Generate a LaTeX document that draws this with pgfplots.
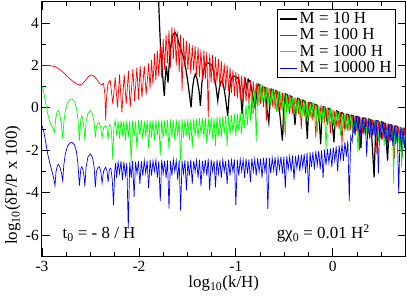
\documentclass[border=0pt]{standalone}
\usepackage{fontspec}
\setmainfont{Liberation Serif}
\usepackage{pgfplots}
\pgfplotsset{compat=1.18}
\definecolor{gred}{rgb}{1,0,0}
\definecolor{ggreen}{rgb}{0,1,0}
\definecolor{gblue}{rgb}{0,0,1}
\begin{document}
\fontsize{17}{19}\selectfont
\begin{tikzpicture}
\begin{axis}[
  scale only axis,
  width=363.5bp, height=254.4bp,
  xmin=-3, xmax=0.75, ymin=-7, ymax=5,
  xtick={-3,-2,-1,0}, xticklabels={-3,-2,-1,0},
  minor xtick={-2.75,-2.5,-2.25,-1.75,-1.5,-1.25,-0.75,-0.5,-0.25,0.25,0.5},
  ytick={-6,-4,-2,0,2,4}, yticklabels={-6,-4,-2,0,2,4},
  minor ytick={-5,-3,-1,1,3},
  tick align=inside, major tick length=8bp, minor tick length=4bp,
  every tick/.style={black, line width=0.8bp},
  axis line style={line width=1bp},
  tick label style={font=\fontsize{15.5}{17}\selectfont},
  yticklabel style={inner xsep=0pt, xshift=-3bp},
  xticklabel style={inner ysep=0pt, yshift=-4.5bp},
  label style={font=\fontsize{17}{19}\selectfont},
  xlabel={log\textsubscript{10}(k/H)},
  ylabel={log\textsubscript{10}(δP/P x 100)},
  xlabel style={at={(axis description cs:0.5,-0.124)}, anchor=base, inner sep=0pt},
  ylabel style={at={(axis description cs:-0.0688,0.044)}, anchor=base west, inner sep=0pt},
  legend style={at={(1,1)}, anchor=north east, xshift=-9.5bp, yshift=-7bp,
    draw=black, line width=0.8bp, fill=white, inner xsep=2bp, inner ysep=1bp,
    font=\fontsize{17}{17}\selectfont, row sep=-1.5bp},
  legend cell align=left,
  legend entries={M = 10 H, M = 100 H, M = 1000 H, M = 10000 H},
]
% black M=10H
\addplot[black, line width=1.2bp] coordinates {
(-1.800,5.5) (-1.790,4.2) (-1.780,3.15) (-1.760,1.8) (-1.745,0.9) (-1.738,0.56) (-1.730,1.3) (-1.718,1.98) (-1.708,1.6) (-1.700,1.19) (-1.690,1.9) (-1.675,2.8) (-1.660,3.25) (-1.645,3.48) (-1.625,3.54) (-1.605,3.35) (-1.585,3.0) (-1.560,2.65) (-1.539,2.37) (-1.515,1.8) (-1.495,1.2) (-1.478,0.6) (-1.462,0.02) (-1.448,0.9) (-1.432,1.4) (-1.418,1.58) (-1.400,1.35) (-1.380,0.8) (-1.366,0.09) (-1.350,1.2) (-1.330,1.8) (-1.310,2.08) (-1.297,2.13) (-1.270,2.08) (-1.245,1.98) (-1.225,1.6) (-1.205,1.0) (-1.187,0.33) (-1.170,0.95) (-1.155,1.2) (-1.142,1.27) (-1.125,1.0) (-1.105,0.4) (-1.084,-0.38) (-1.065,0.9) (-1.045,1.4) (-1.022,1.5) (-0.995,1.45) (-0.970,1.35) (-0.955,0.9) (-0.945,0.3) (-0.935,-0.3) (-0.920,0.8) (-0.905,1.35)
(-0.885,0.9) (-0.870,1.33) (-0.850,1.2) (-0.830,0.7) (-0.815,0.3) (-0.800,0.0) (-0.785,0.7) (-0.770,1.12) (-0.750,1.05) (-0.735,0.6) (-0.720,1.0) (-0.700,0.95) (-0.685,0.3) (-0.672,-0.3) (-0.660,-0.69) (-0.648,0.2) (-0.635,0.88) (-0.615,0.85) (-0.600,0.5) (-0.588,0.82) (-0.570,0.75) (-0.555,0.1) (-0.540,-0.6) (-0.520,-1.55) (-0.505,0.0) (-0.490,0.66) (-0.470,0.62) (-0.455,0.2) (-0.440,0.56) (-0.420,0.52) (-0.405,0.0) (-0.390,-0.8) (-0.375,0.1) (-0.360,0.45) (-0.340,0.40) (-0.325,0.0) (-0.310,0.36) (-0.292,0.33) (-0.278,-0.2) (-0.263,-1.47) (-0.250,-0.1) (-0.235,0.25) (-0.215,0.21) (-0.200,-0.2) (-0.185,0.17) (-0.165,0.13) (-0.150,-0.3) (-0.137,-0.8) (-0.125,-1.71) (-0.112,-0.4) (-0.098,0.05) (-0.080,0.02) (-0.065,-0.5) (-0.050,-0.03) (-0.030,-0.06) (-0.015,-0.5) (0.000,-1.0) (0.012,-1.63) (0.025,-0.5) (0.040,-0.15) (0.060,-0.2) (0.075,-0.7) (0.090,-0.23) (0.110,-0.27) (0.125,-0.9) (0.140,-0.3) (0.160,-0.32) (0.175,-0.8) (0.190,-0.35) (0.210,-0.37) (0.225,-1.0) (0.240,-0.4) (0.260,-0.42) (0.275,-1.2) (0.290,-1.9) (0.305,-0.6) (0.320,-0.48) (0.340,-0.5) (0.355,-1.1) (0.370,-0.53) (0.390,-0.56) (0.405,-1.6) (0.418,-2.6) (0.426,-3.28) (0.435,-2.0) (0.448,-0.6) (0.470,-0.63) (0.490,-1.2) (0.505,-0.66) (0.525,-0.7) (0.545,-1.3) (0.558,-2.0) (0.565,-2.49) (0.575,-1.5) (0.590,-0.8) (0.610,-0.82) (0.630,-1.4) (0.645,-0.86) (0.665,-0.88) (0.685,-1.2) (0.700,-1.6) (0.715,-2.1) (0.728,-1.2) (0.740,-0.97) (0.755,-1.0)
};
% red M=100H
\addplot[gred, line width=0.7bp] coordinates {
(-3.00,2.00) (-2.94,2.00) (-2.88,1.96) (-2.84,1.88) (-2.80,1.75) (-2.76,1.58) (-2.72,1.40) (-2.68,1.24) (-2.64,1.12) (-2.61,1.08) (-2.58,1.14) (-2.55,1.30) (-2.52,1.48) (-2.49,1.55) (-2.46,1.48) (-2.43,1.30) (-2.40,1.12) (-2.38,1.10) (-2.365,1.15) (-2.35,0.60) (-2.343,-0.60) (-2.335,0.40) (-2.32,1.15) (-2.297,1.30) (-2.269,0.17) (-2.245,1.43) (-2.221,0.02) (-2.200,1.58) (-2.176,-0.22) (-2.152,1.58) (-2.131,0.17) (-2.108,1.74) (-2.090,0.02) (-2.062,1.82) (-2.045,0.33) (-2.021,1.90) (-2.004,0.40) (-1.987,1.98) (-1.969,0.49) (-1.945,1.98) (-1.925,0.64)
(-1.900,2.10) (-1.885,0.90) (-1.870,2.25) (-1.855,1.10) (-1.840,2.55) (-1.825,1.30) (-1.810,2.70) (-1.795,1.50) (-1.780,2.95) (-1.765,1.40) (-1.750,3.25) (-1.735,1.80) (-1.720,3.45) (-1.705,2.10) (-1.690,3.65) (-1.675,1.90) (-1.660,3.80) (-1.645,2.30) (-1.630,3.75) (-1.615,2.00) (-1.600,3.60) (-1.585,1.70) (-1.570,3.45) (-1.555,0.80) (-1.540,3.30) (-1.525,1.90) (-1.510,3.15) (-1.495,1.80) (-1.480,3.05) (-1.465,1.60) (-1.450,2.95) (-1.435,1.75) (-1.420,2.90) (-1.405,1.55) (-1.390,2.85) (-1.375,1.45) (-1.360,2.75) (-1.345,1.30) (-1.330,2.70) (-1.315,1.35) (-1.300,2.65) (-1.285,-0.45) (-1.270,2.55) (-1.255,1.20) (-1.240,2.50) (-1.225,1.10) (-1.210,2.40) (-1.195,1.20) (-1.180,2.30) (-1.165,0.95) (-1.150,2.20) (-1.135,1.00) (-1.120,2.10) (-1.105,0.85) (-1.090,2.00) (-1.075,0.80) (-1.060,1.90) (-1.045,0.70) (-1.030,1.78) (-1.015,0.55) (-1.000,1.68) (-0.985,0.45) (-0.970,1.60) (-0.955,0.40) (-0.940,1.52) (-0.925,0.30) (-0.910,1.45) (-0.895,0.30) (-0.880,1.38) (-0.865,0.20) (-0.850,1.32) (-0.835,-0.30) (-0.820,1.25) (-0.805,0.30) (-0.790,1.18) (-0.775,0.10) (-0.760,1.12) (-0.745,0.20) (-0.730,1.06) (-0.715,0.05) (-0.700,1.00) (-0.685,-0.60) (-0.670,0.96) (-0.655,0.15) (-0.640,0.92) (-0.625,0.05) (-0.610,0.88) (-0.595,-0.05) (-0.580,0.82) (-0.565,-0.20) (-0.550,0.76) (-0.535,-0.10) (-0.520,0.72) (-0.505,-1.20) (-0.490,0.66) (-0.475,-0.20) (-0.460,0.60) (-0.445,-0.30) (-0.430,0.56) (-0.415,-0.25) (-0.400,0.50) (-0.385,-0.45) (-0.370,0.45) (-0.355,-0.30) (-0.340,0.40) (-0.325,-1.00) (-0.310,0.37) (-0.295,-0.40) (-0.280,0.32) (-0.265,-0.50) (-0.250,0.28) (-0.235,-0.45) (-0.220,0.23) (-0.205,-0.60) (-0.190,0.18) (-0.175,-1.40) (-0.160,0.14) (-0.145,-0.60) (-0.130,0.10) (-0.115,-0.70) (-0.100,0.05) (-0.085,-0.65) (-0.070,0.00) (-0.055,-0.80) (-0.040,-0.04) (-0.025,-1.20) (-0.010,-0.08) (0.005,-0.85) (0.020,-0.13) (0.035,-0.90) (0.050,-0.18) (0.065,-1.00) (0.080,-0.22) (0.095,-1.70) (0.110,-0.26) (0.125,-1.00) (0.140,-0.29) (0.155,-1.10) (0.170,-0.32) (0.185,-1.05) (0.200,-0.35) (0.215,-1.20) (0.230,-0.38) (0.245,-1.10) (0.260,-0.41) (0.275,-2.00) (0.290,-0.44) (0.305,-1.20) (0.320,-0.47) (0.335,-1.30) (0.350,-0.50) (0.365,-1.25) (0.380,-0.53) (0.395,-1.40) (0.410,-0.56) (0.425,-1.30) (0.440,-0.59) (0.455,-2.20) (0.470,-0.62) (0.485,-1.45) (0.500,-0.65) (0.515,-1.50) (0.530,-0.69) (0.545,-1.40) (0.560,-0.74) (0.575,-1.60) (0.590,-0.79) (0.605,-1.55) (0.620,-0.82) (0.635,-2.40) (0.650,-0.85) (0.665,-1.60) (0.680,-0.88) (0.695,-1.70) (0.710,-0.92) (0.725,-1.75) (0.740,-0.97) (0.755,-1.80)
};
% green M=1000H
\addplot[ggreen, line width=0.7bp] coordinates {
(-3.000,1.03) (-2.985,0.80) (-2.970,0.45) (-2.955,0.05) (-2.940,-0.30) (-2.920,-0.65) (-2.900,-0.85) (-2.885,-1.0) (-2.870,-1.15) (-2.860,-0.55) (-2.845,-0.20) (-2.830,-0.14) (-2.815,-0.35) (-2.800,-0.75) (-2.786,-1.45) (-2.775,-0.70) (-2.760,-0.15) (-2.740,0.20) (-2.715,0.38) (-2.690,0.42) (-2.665,0.30) (-2.645,0.0) (-2.630,-0.50) (-2.614,-1.55) (-2.600,-0.55) (-2.590,-0.38) (-2.578,-0.55) (-2.565,-1.0) (-2.558,-1.55) (-2.545,-0.65) (-2.525,-0.25) (-2.500,-0.14) (-2.478,-0.30) (-2.462,-0.70) (-2.450,-1.40) (-2.438,-0.90) (-2.422,-0.72) (-2.410,-0.70) (-2.395,-0.9) (-2.380,-1.40) (-2.365,-0.95) (-2.345,-0.85) (-2.330,-0.95) (-2.318,-1.5) (-2.305,-0.80) (-2.290,-0.85) (-2.280,-1.4) (-2.270,-2.45) (-2.258,-0.9) (-2.245,-0.60)
(-2.230,-1.30) (-2.215,-0.62) (-2.200,-1.45) (-2.185,-0.60) (-2.170,-1.25) (-2.155,-0.63) (-2.140,-1.55) (-2.125,-0.60) (-2.110,-1.40) (-2.095,-0.62) (-2.080,-2.60) (-2.065,-0.60) (-2.050,-1.35) (-2.035,-0.65) (-2.020,-1.95) (-2.005,-0.60) (-1.990,-1.30) (-1.975,-0.58) (-1.960,-1.50) (-1.945,-0.62) (-1.930,-1.35) (-1.915,-0.58) (-1.900,-1.90) (-1.885,-0.60) (-1.870,-1.40) (-1.855,-0.57) (-1.840,-1.55) (-1.825,-0.60) (-1.810,-1.30) (-1.795,-0.58) (-1.780,-2.26) (-1.765,-0.56) (-1.750,-1.45) (-1.735,-0.60) (-1.720,-1.35) (-1.705,-0.57) (-1.690,-2.00) (-1.675,-0.55) (-1.660,-1.40) (-1.645,-0.58) (-1.630,-1.55) (-1.615,-0.55) (-1.600,-1.35) (-1.585,-0.57) (-1.570,-2.50) (-1.555,-0.54) (-1.540,-1.40) (-1.525,-0.55) (-1.510,-1.30) (-1.495,-0.52) (-1.480,-1.55) (-1.465,-0.55) (-1.450,-1.90) (-1.435,-0.50) (-1.420,-1.35) (-1.405,-0.52) (-1.390,-1.45) (-1.375,-0.48) (-1.360,-1.25) (-1.345,-0.50) (-1.330,-1.40) (-1.315,-0.47) (-1.300,-1.70) (-1.285,-0.48) (-1.270,-1.30) (-1.255,-0.45) (-1.240,-1.45) (-1.225,-0.46) (-1.210,-1.80) (-1.195,-0.42) (-1.180,-1.30) (-1.165,-0.43) (-1.150,-1.40) (-1.135,-0.40) (-1.120,-1.25) (-1.105,-0.38) (-1.090,-1.80) (-1.075,-0.36) (-1.060,-1.30) (-1.045,-0.33) (-1.030,-1.20) (-1.015,-0.30) (-1.000,-1.35) (-0.985,-0.28) (-0.970,-1.10) (-0.955,-0.22) (-0.940,-1.25) (-0.925,-0.10) (-0.910,-0.95) (-0.895,0.15) (-0.880,-0.80) (-0.865,0.40) (-0.850,-0.60) (-0.835,0.65) (-0.820,-0.30) (-0.805,0.85) (-0.790,-1.60) (-0.775,1.00) (-0.760,0.10) (-0.745,1.12)
(-0.730,0.20) (-0.715,1.05) (-0.700,0.30) (-0.685,0.98) (-0.670,-0.10) (-0.655,0.94) (-0.640,0.20) (-0.625,0.90) (-0.610,0.10) (-0.595,0.86) (-0.580,-0.20) (-0.565,0.80) (-0.550,0.05) (-0.535,0.74) (-0.520,-0.10) (-0.505,0.70) (-0.490,-1.40) (-0.475,0.64) (-0.460,-0.15) (-0.445,0.58) (-0.430,-0.05) (-0.415,0.53) (-0.400,-0.30) (-0.385,0.48) (-0.370,-0.20) (-0.355,0.43) (-0.340,-0.45) (-0.325,0.39) (-0.310,-0.30) (-0.295,0.35) (-0.280,-0.80) (-0.265,0.30) (-0.250,-0.40) (-0.235,0.26) (-0.220,-0.50) (-0.205,0.21) (-0.190,-0.35) (-0.175,0.16) (-0.160,-1.20) (-0.145,0.12) (-0.130,-0.55) (-0.115,0.08) (-0.100,-0.60) (-0.085,0.03) (-0.070,-2.00) (-0.055,-0.01) (-0.040,-0.70) (-0.025,-0.06) (-0.010,-0.75) (0.005,-0.11) (0.020,-0.90) (0.035,-0.15) (0.050,-0.80) (0.065,-0.20) (0.080,-1.30) (0.095,-0.24) (0.110,-0.95) (0.125,-0.28) (0.140,-1.00) (0.155,-0.31) (0.170,-1.10) (0.185,-0.34) (0.200,-1.00) (0.215,-0.36) (0.230,-1.20) (0.245,-0.39) (0.260,-2.10) (0.275,-0.42) (0.290,-1.20) (0.305,-0.45) (0.320,-1.30) (0.335,-0.48) (0.350,-1.20) (0.365,-0.51) (0.380,-1.50) (0.395,-0.54) (0.410,-1.30) (0.425,-0.57) (0.440,-1.40) (0.455,-0.60) (0.470,-1.60) (0.485,-0.63) (0.500,-1.40) (0.515,-0.66) (0.530,-1.80) (0.545,-0.70) (0.560,-1.50) (0.575,-0.75) (0.590,-1.60) (0.605,-0.80) (0.620,-1.60) (0.628,-3.60) (0.635,-0.83) (0.650,-1.70) (0.665,-0.86) (0.680,-1.65) (0.695,-0.89) (0.710,-2.80) (0.725,-0.93) (0.740,-1.80) (0.755,-0.98)
};
% blue M=10000H
\addplot[gblue, line width=0.7bp] coordinates {
(-3.000,-0.85) (-2.985,-1.05) (-2.970,-1.40) (-2.955,-1.80) (-2.940,-2.20) (-2.920,-2.60) (-2.900,-2.95) (-2.885,-3.20) (-2.866,-3.67) (-2.855,-3.00) (-2.840,-2.70) (-2.828,-2.68) (-2.815,-2.80) (-2.800,-3.05) (-2.786,-3.45) (-2.775,-2.70) (-2.760,-2.20) (-2.740,-1.85) (-2.715,-1.66) (-2.690,-1.63) (-2.665,-1.75) (-2.645,-2.05) (-2.630,-2.60) (-2.614,-3.67) (-2.600,-2.90) (-2.590,-2.78) (-2.578,-2.90) (-2.565,-3.30) (-2.558,-3.70) (-2.545,-2.80) (-2.525,-2.30) (-2.500,-2.18) (-2.478,-2.35) (-2.462,-2.80) (-2.450,-3.75) (-2.438,-3.00) (-2.420,-2.80) (-2.410,-2.78) (-2.395,-2.95) (-2.380,-3.55) (-2.365,-3.00) (-2.345,-2.80) (-2.330,-2.95) (-2.318,-3.50) (-2.305,-2.90) (-2.290,-2.85) (-2.275,-3.40) (-2.262,-4.60) (-2.250,-3.00) (-2.240,-2.60)
(-2.230,-3.30) (-2.215,-2.55) (-2.200,-3.10) (-2.185,-2.52) (-2.170,-3.40) (-2.155,-2.55) (-2.140,-3.20) (-2.125,-2.60) (-2.110,-5.70) (-2.095,-2.55) (-2.080,-3.30) (-2.065,-2.50) (-2.050,-4.20) (-2.035,-2.55) (-2.020,-3.10) (-2.005,-2.50) (-1.990,-3.60) (-1.975,-2.52) (-1.960,-3.20) (-1.945,-2.48) (-1.930,-3.10) (-1.915,-2.50) (-1.900,-3.80) (-1.885,-2.45) (-1.870,-3.20) (-1.855,-2.50) (-1.840,-3.00) (-1.825,-2.47) (-1.810,-3.30) (-1.795,-2.50) (-1.780,-4.40) (-1.765,-2.45) (-1.750,-3.10) (-1.735,-2.50) (-1.720,-3.30) (-1.705,-2.48) (-1.690,-4.75) (-1.675,-2.50) (-1.660,-3.20) (-1.645,-2.45) (-1.630,-3.00) (-1.615,-2.50) (-1.600,-3.40) (-1.585,-2.48) (-1.570,-4.85) (-1.555,-2.52) (-1.540,-3.10) (-1.525,-2.47) (-1.510,-3.90) (-1.495,-2.50) (-1.480,-3.20) (-1.465,-2.45) (-1.450,-3.60) (-1.435,-2.50) (-1.420,-3.00) (-1.405,-2.48) (-1.390,-3.30) (-1.375,-2.45) (-1.360,-3.70) (-1.345,-2.50) (-1.330,-3.10) (-1.315,-2.46) (-1.300,-3.20) (-1.285,-2.40) (-1.270,-3.90) (-1.255,-2.45) (-1.240,-3.00) (-1.225,-2.50) (-1.210,-3.75) (-1.195,-2.45) (-1.180,-3.10) (-1.165,-2.48) (-1.150,-3.30) (-1.135,-2.45) (-1.120,-3.00) (-1.105,-2.50) (-1.090,-3.60) (-1.075,-2.45) (-1.060,-3.20) (-1.045,-2.47) (-1.030,-3.00) (-1.015,-2.44) (-1.000,-4.60) (-0.985,-2.45) (-0.970,-3.20) (-0.955,-2.42) (-0.940,-3.00) (-0.925,-2.45) (-0.910,-3.30) (-0.895,-2.40) (-0.880,-3.10) (-0.865,-2.43) (-0.850,-3.50) (-0.835,-2.40) (-0.820,-3.00) (-0.805,-2.42) (-0.790,-3.20) (-0.775,-2.38) (-0.760,-3.00) (-0.745,-2.40) (-0.730,-3.30) (-0.715,-2.36) (-0.700,-3.00) (-0.685,-2.38) (-0.670,-4.77) (-0.655,-2.35) (-0.640,-3.10) (-0.625,-2.36) (-0.610,-2.95) (-0.595,-2.33) (-0.580,-3.20) (-0.565,-2.35) (-0.550,-2.90) (-0.535,-2.30) (-0.520,-3.10) (-0.505,-2.32) (-0.490,-3.80) (-0.475,-2.28) (-0.460,-2.90) (-0.445,-2.30) (-0.430,-3.00) (-0.415,-2.25) (-0.400,-3.40) (-0.385,-2.27) (-0.370,-2.85) (-0.355,-2.22) (-0.340,-3.00) (-0.325,-2.20) (-0.310,-2.80) (-0.295,-2.18) (-0.280,-3.10) (-0.265,-2.12) (-0.250,-4.00) (-0.235,-2.10) (-0.220,-2.80) (-0.205,-2.08) (-0.190,-2.90) (-0.175,-2.05) (-0.160,-2.70) (-0.145,-2.03) (-0.130,-2.90) (-0.115,-2.00) (-0.100,-3.30) (-0.085,-1.98) (-0.070,-2.70) (-0.055,-1.95) (-0.040,-2.60) (-0.025,-1.92) (-0.010,-2.80) (0.005,-1.87) (0.020,-2.50) (0.035,-1.82) (0.050,-3.00) (0.065,-1.78) (0.080,-2.40) (0.095,-1.72) (0.110,-2.50) (0.125,-1.62) (0.140,-2.30) (0.155,-1.55) (0.170,-4.40) (0.185,-1.35)
(0.200,-1.60) (0.215,-0.36) (0.230,-1.30) (0.245,-0.40) (0.260,-1.10) (0.275,-0.43) (0.290,-1.40) (0.305,-0.46) (0.320,-1.20) (0.335,-0.49) (0.350,-2.30) (0.365,-0.52) (0.380,-1.40) (0.395,-0.55) (0.410,-1.30) (0.425,-0.58) (0.440,-1.60) (0.455,-0.61) (0.470,-3.10) (0.485,-0.64) (0.500,-1.50) (0.515,-0.67) (0.530,-1.40) (0.545,-0.71) (0.560,-1.90) (0.575,-0.76) (0.590,-1.60) (0.605,-0.81) (0.620,-1.80) (0.635,-0.84) (0.650,-1.70) (0.665,-0.87) (0.680,-4.05) (0.695,-0.90) (0.710,-1.80) (0.725,-0.94) (0.740,-1.90) (0.755,-0.99)
};
\node[anchor=base west, inner sep=0pt, font=\fontsize{17}{19}\selectfont] at (axis cs:-2.79,-6.17) {t\textsubscript{0} = - 8 / H};
\node[anchor=base west, inner sep=0pt, font=\fontsize{17}{19}\selectfont] at (axis cs:-0.58,-6.17) {gχ\textsubscript{0} = 0.01 H\textsuperscript{2}};
\end{axis}
\pgfresetboundingbox
\path[use as bounding box] ([shift={(-42bp,-39.8bp)}]current axis.south west) rectangle ([shift={(1.5bp,1.8bp)}]current axis.north east);
\end{tikzpicture}
\end{document}
